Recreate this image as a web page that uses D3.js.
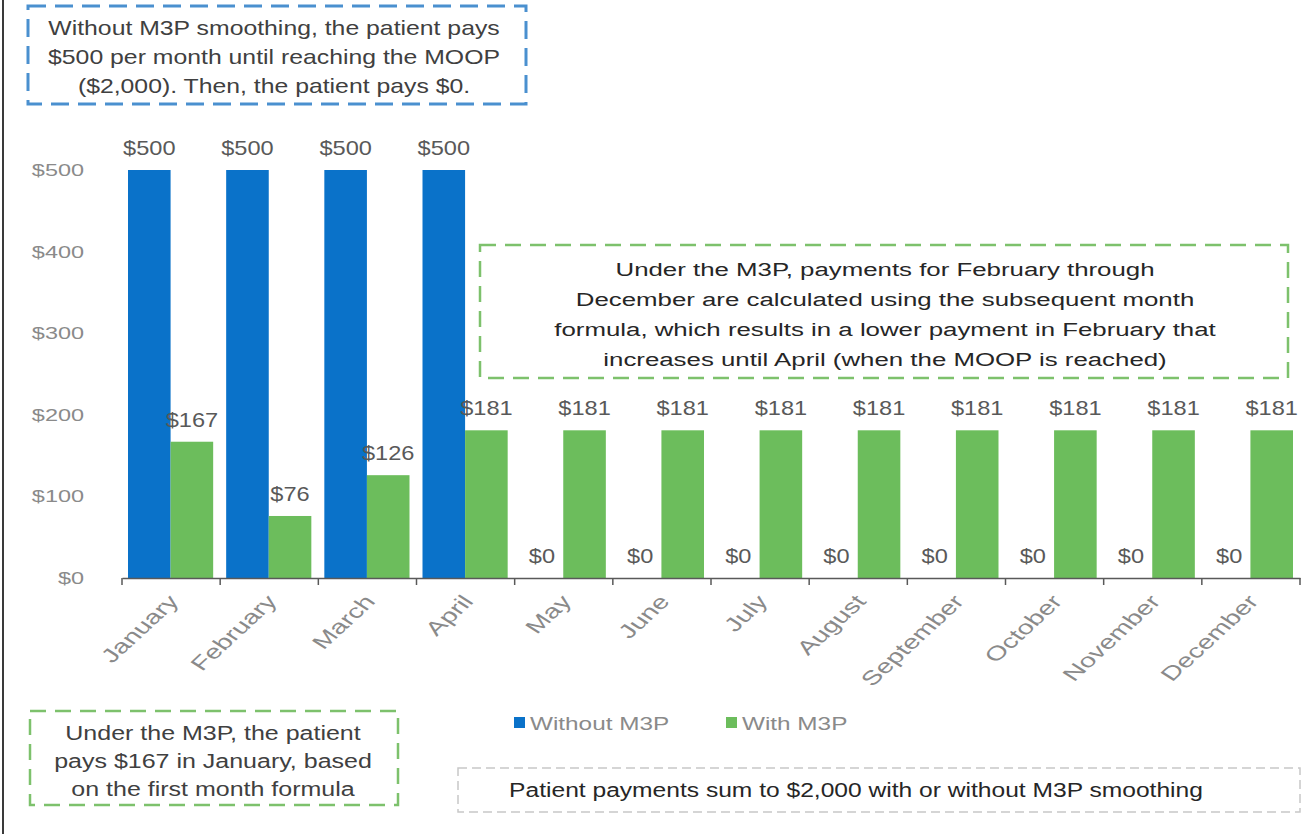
<!DOCTYPE html>
<html>
<head>
<meta charset="utf-8">
<script src="https://cdn.jsdelivr.net/npm/d3@7"></script>
<style>
  body { margin: 0; background: #fff; }
  svg { font-family: "Liberation Sans", Arial, sans-serif; }
</style>
</head>
<body>
<svg id="m3p_chart" width="1306" height="834"></svg>
<script>
var months = ['January', 'February', 'March', 'April', 'May', 'June', 'July',
  'August', 'September', 'October', 'November', 'December'];
var withoutM3P = [500, 500, 500, 500, 0, 0, 0, 0, 0, 0, 0, 0];
var withM3P = [167, 76, 126, 181, 181, 181, 181, 181, 181, 181, 181, 181];
var yTicks = [0, 100, 200, 300, 400, 500];
var seriesNames = ['Without M3P', 'With M3P'];
var seriesColors = ['#0A72C9', '#6CBD5C'];

function buildChart() {
  var svg = d3.select('#m3p_chart');

  // the picture text is a bit wider than plain Arial, stretch it
  var stretch = 1.28;

  // frame line on the left
  svg.append('line')
    .attr('x1', 3).attr('x2', 3).attr('y1', 0).attr('y2', 834)
    .attr('stroke', '#3a3a3a').attr('stroke-width', 2);

  var xScale = d3.scaleBand()
    .domain(months)
    .range([122, 1300]);
  var subScale = d3.scaleBand()
    .domain(seriesNames)
    .range([6, xScale.bandwidth() - 7]);
  var yScale = d3.scaleLinear()
    .domain([0, 500])
    .range([578, 170]);

  // y axis labels only
  var yAxisG = svg.append('g')
    .attr('transform', 'translate(' + [84, 0] + ')')
    .call(d3.axisLeft(yScale).tickValues(yTicks).tickSize(0).tickPadding(0)
      .tickFormat(d => '$' + d));
  yAxisG.select('.domain').remove();
  yAxisG.selectAll('text')
    .attr('fill', '#8a8a8a')
    .attr('font-family', null)
    .style('font-size', '17px')
    .attr('transform', 'scale(1.38,1)');

  var rows = months.map((m, i) => ({ month: m, vals: [withoutM3P[i], withM3P[i]] }));

  var groups = svg.selectAll('.month_group')
    .data(rows)
    .enter()
    .append('g')
    .attr('class', 'month_group')
    .attr('transform', d => 'translate(' + [xScale(d.month), 0] + ')');

  groups.selectAll('rect')
    .data(d => d.vals.map((v, j) => ({ name: seriesNames[j], v: v, j: j })))
    .enter()
    .append('rect')
    .attr('x', d => subScale(d.name))
    .attr('y', d => yScale(d.v))
    .attr('width', subScale.bandwidth())
    .attr('height', d => yScale(0) - yScale(d.v))
    .attr('fill', d => seriesColors[d.j]);

  groups.selectAll('.val_label')
    .data(d => d.vals.map((v, j) => ({ name: seriesNames[j], v: v, j: j })))
    .enter()
    .append('text')
    .attr('class', 'val_label')
    .attr('transform', d => 'translate(' +
      [subScale(d.name) + subScale.bandwidth() / 2, yScale(d.v) - 15] + ') scale(1.18,1)')
    .attr('text-anchor', 'middle')
    .attr('fill', '#595959')
    .style('font-size', '20px')
    .text(d => '$' + d.v);

  // x axis
  var xAxisG = svg.append('g')
    .attr('transform', 'translate(' + [0, 578] + ')')
    .call(d3.axisBottom(xScale).tickSize(0).tickSizeOuter(0));
  xAxisG.select('.domain').attr('stroke', '#595959').attr('stroke-width', 1.5);
  xAxisG.selectAll('.tick line').remove();
  xAxisG.selectAll('.tick text')
    .attr('fill', '#8a8a8a')
    .attr('font-family', null)
    .style('font-size', '19px')
    .attr('text-anchor', 'end')
    .attr('dy', null)
    .attr('y', null)
    .attr('transform', 'translate(' + [9, 24] + ') scale(1.3,1) rotate(-50) scale(1.2,1)');

  var edges = months.map(m => xScale(m)).concat([xScale.range()[1]]);
  svg.selectAll('.band_tick')
    .data(edges)
    .enter()
    .append('line')
    .attr('class', 'band_tick')
    .attr('x1', d => d).attr('x2', d => d)
    .attr('y1', 578).attr('y2', 585)
    .attr('stroke', '#595959').attr('stroke-width', 1.5);

  // legend
  var legendX = [514, 726];
  var legendItems = svg.append('g').selectAll('g')
    .data(seriesNames)
    .enter()
    .append('g')
    .attr('transform', (d, i) => 'translate(' + [legendX[i], 723] + ')');
  legendItems.append('rect')
    .attr('x', 0).attr('y', -6).attr('width', 11).attr('height', 11)
    .attr('fill', (d, i) => seriesColors[i]);
  legendItems.append('text')
    .attr('transform', 'translate(' + [16, 7] + ') scale(' + stretch + ',1)')
    .attr('fill', '#8a8a8a')
    .style('font-size', '19px')
    .text(d => d);

  // annotation boxes
  function noteBox(x, y, w, h, stroke, dash, sw, lines, cx, firstBase, lineGap, color, size, sx) {
    svg.append('rect')
      .attr('x', x).attr('y', y).attr('width', w).attr('height', h)
      .attr('fill', 'none')
      .attr('stroke', stroke)
      .attr('stroke-width', sw)
      .attr('stroke-dasharray', dash);
    svg.append('g').selectAll('text')
      .data(lines)
      .enter()
      .append('text')
      .attr('transform', (d, i) => 'translate(' + [cx, firstBase + i * lineGap] + ') scale(' + sx + ',1)')
      .attr('text-anchor', 'middle')
      .attr('fill', color)
      .style('font-size', size + 'px')
      .text(d => d);
  }

  noteBox(28, 6, 498, 98, '#4A90CF', '18,9', 3,
    ['Without M3P smoothing, the patient pays',
     '$500 per month until reaching the MOOP',
     '($2,000). Then, the patient pays $0.'],
    274, 35, 29, '#404040', 20, 1.24);

  noteBox(480, 245, 808, 133, '#7DC16C', '16,9', 2.5,
    ['Under the M3P, payments for February through',
     'December are calculated using the subsequent month',
     'formula, which results in a lower payment in February that',
     'increases until April (when the MOOP is reached)'],
    885, 276, 30, '#262626', 19, 1.36);

  noteBox(30, 711, 368, 94, '#7DC16C', '16,9', 2.5,
    ['Under the M3P, the patient',
     'pays $167 in January, based',
     'on the first month formula'],
    213, 740, 28, '#404040', 20, 1.25);

  noteBox(458, 768, 842, 44, '#C8C8C8', '9,5', 1.5,
    ['Patient payments sum to $2,000 with or without M3P smoothing'],
    856, 797, 0, '#262626', 20, 1.23);
}

buildChart();
</script>
</body>
</html>
